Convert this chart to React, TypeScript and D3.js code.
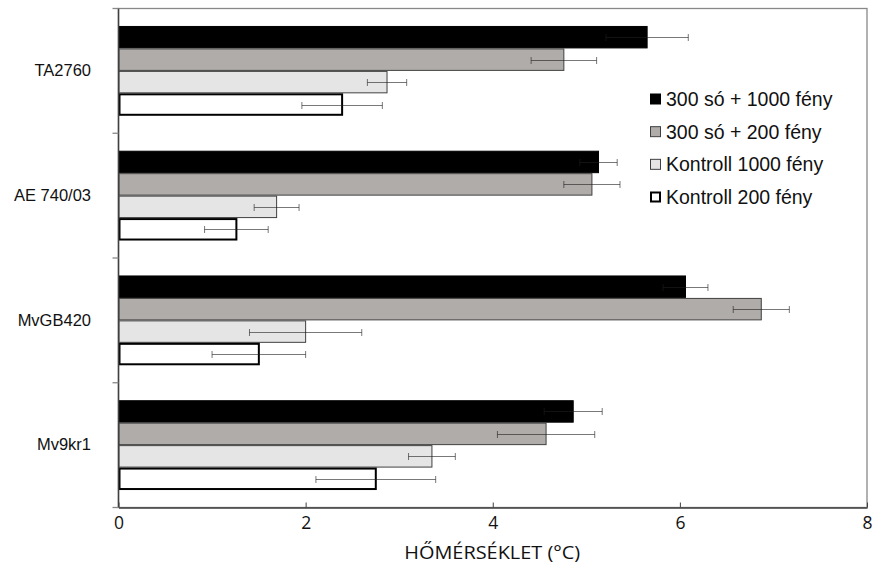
import { useEffect, useRef } from 'react'
import * as d3 from 'd3'

// Hőmérséklet-különbség fajtánként, 4 kezeléssel (vízszintes oszlopok + szórás)
const categories = ['TA2760', 'AE 740/03', 'MvGB420', 'Mv9kr1']
const seriesNames = ['300 só + 1000 fény', '300 só + 200 fény', 'Kontroll 1000 fény', 'Kontroll 200 fény']

const salt1000 = [5.65, 5.13, 6.06, 4.86]
const salt1000Err = [0.44, 0.2, 0.24, 0.31]
const salt200 = [4.76, 5.06, 6.87, 4.57]
const salt200Err = [0.35, 0.3, 0.3, 0.52]
const ctrl1000 = [2.87, 1.69, 2.0, 3.35]
const ctrl1000Err = [0.21, 0.24, 0.6, 0.25]
const ctrl200 = [2.39, 1.26, 1.5, 2.75]
const ctrl200Err = [0.43, 0.34, 0.5, 0.64]

const xTicks = [0, 2, 4, 6, 8]

const STYLES = [
  { fill: '#000000', stroke: '#000000', sw: 1 },
  { fill: '#b0acaa', stroke: '#404040', sw: 1 },
  { fill: '#e5e5e5', stroke: '#404040', sw: 1 },
  { fill: '#ffffff', stroke: '#000000', sw: 2 },
]

const W = 873, H = 564

export default function App() {
  const ref = useRef<SVGSVGElement>(null)

  useEffect(() => {
    const el = ref.current
    if (!el) return
    const svg = d3.select(el)
    svg.selectAll('*').remove()

    const L = 118.5, R = 867, T = 8.5, B = 507.5
    const values = [salt1000, salt200, ctrl1000, ctrl200]
    const errs = [salt1000Err, salt200Err, ctrl1000Err, ctrl200Err]

    const x = d3.scaleLinear().domain([0, 8]).range([L, R])
    const y = d3.scaleBand<string>().domain(categories).range([T, B]).paddingInner(0.28).paddingOuter(0.14)
    const ys = d3.scaleBand<number>().domain(d3.range(seriesNames.length)).range([0, y.bandwidth()])

    // keret
    svg.append('rect')
      .attr('x', L).attr('y', T).attr('width', R - L).attr('height', B - T)
      .attr('fill', 'none').attr('stroke', '#888').attr('stroke-width', 1.3)

    // oszlopok
    categories.forEach((c, ci) => {
      values.forEach((vals, si) => {
        const st = STYLES[si]
        const y0 = y(c)! + ys(si)!
        const inset = st.sw / 2
        svg.append('rect')
          .attr('x', x(0) + inset).attr('y', y0 + inset)
          .attr('width', x(vals[ci]) - x(0) - inset).attr('height', ys.bandwidth() - st.sw)
          .attr('fill', st.fill).attr('stroke', st.stroke).attr('stroke-width', st.sw)
      })
    })

    // hibasávok
    categories.forEach((c, ci) => {
      values.forEach((vals, si) => {
        const cy = Math.round(y(c)! + ys(si)! + ys.bandwidth() / 2) + 0.5
        const lo = x(vals[ci] - errs[si][ci]), hi = x(vals[ci] + errs[si][ci])
        const g = svg.append('g').attr('stroke', '#1e1e1e').attr('stroke-opacity', 0.6).attr('stroke-width', 1)
        g.append('line').attr('x1', lo).attr('x2', hi).attr('y1', cy).attr('y2', cy)
        g.append('line').attr('x1', lo).attr('x2', lo).attr('y1', cy - 3.5).attr('y2', cy + 3.5)
        g.append('line').attr('x1', hi).attr('x2', hi).attr('y1', cy - 3.5).attr('y2', cy + 3.5)
      })
    })

    // x tengely
    svg.append('g')
      .attr('transform', `translate(0,${B})`)
      .call(d3.axisBottom(x).tickValues(xTicks).tickSizeInner(-5).tickSizeOuter(0).tickPadding(9).tickFormat(d3.format('d')))
      .call(s => s.select('.domain').attr('stroke', '#404040').attr('stroke-width', 1.5))
      .call(s => s.selectAll('.tick line').attr('stroke', '#404040'))
      .call(s => s.selectAll('text').attr('fill', '#111').attr('font-size', 17.5).attr('font-family', '"Open Sans", sans-serif'))

    svg.append('text')
      .attr('x', (L + R) / 2 - 0.5).attr('y', 559)
      .attr('text-anchor', 'middle')
      .attr('font-family', '"Open Sans", sans-serif').attr('font-size', 18.5).attr('fill', '#111')
      .attr('textLength', 176).attr('lengthAdjust', 'spacingAndGlyphs')
      .text('HŐMÉRSÉKLET (°C)')

    // y tengely
    const bounds = categories.map(c => y(c)! - (y.step() - y.bandwidth()) / 2).concat([B])
    svg.append('line').attr('x1', L).attr('x2', L).attr('y1', T).attr('y2', B)
      .attr('stroke', '#404040').attr('stroke-width', 1.5)
    bounds.forEach(b => {
      svg.append('line').attr('x1', L - 6).attr('x2', L).attr('y1', b).attr('y2', b)
        .attr('stroke', '#888').attr('stroke-width', 1.3)
    })
    svg.append('g')
      .attr('transform', `translate(${L},0)`)
      .call(d3.axisLeft(y).tickSize(0).tickPadding(27.5))
      .call(s => s.select('.domain').remove())
      .call(s => s.selectAll('text').attr('fill', '#111').attr('font-size', 16.5).attr('font-family', '"Liberation Sans", Arial, sans-serif'))

    // jelmagyarázat
    const legend = svg.append('g').attr('transform', 'translate(650,0)')
    const rowY = d3.scalePoint<number>().domain(d3.range(seriesNames.length)).range([99, 197])
    seriesNames.forEach((name, si) => {
      const st = STYLES[si]
      const cy = rowY(si)!
      legend.append('rect')
        .attr('x', st.sw / 2).attr('y', cy - 5.5 + st.sw / 2)
        .attr('width', 11 - st.sw).attr('height', 11 - st.sw)
        .attr('fill', st.fill).attr('stroke', st.stroke).attr('stroke-width', st.sw)
      legend.append('text')
        .attr('x', 16).attr('y', cy).attr('dy', '0.36em')
        .attr('font-family', '"Liberation Sans", Arial, sans-serif').attr('font-size', 19.5).attr('fill', '#111')
        .text(name)
    })
  }, [])

  return (
    <svg ref={ref} width={W} height={H} viewBox={`0 0 ${W} ${H}`}
      style={{ position: 'absolute', left: 0, top: 0, background: '#fff' }} />
  )
}
